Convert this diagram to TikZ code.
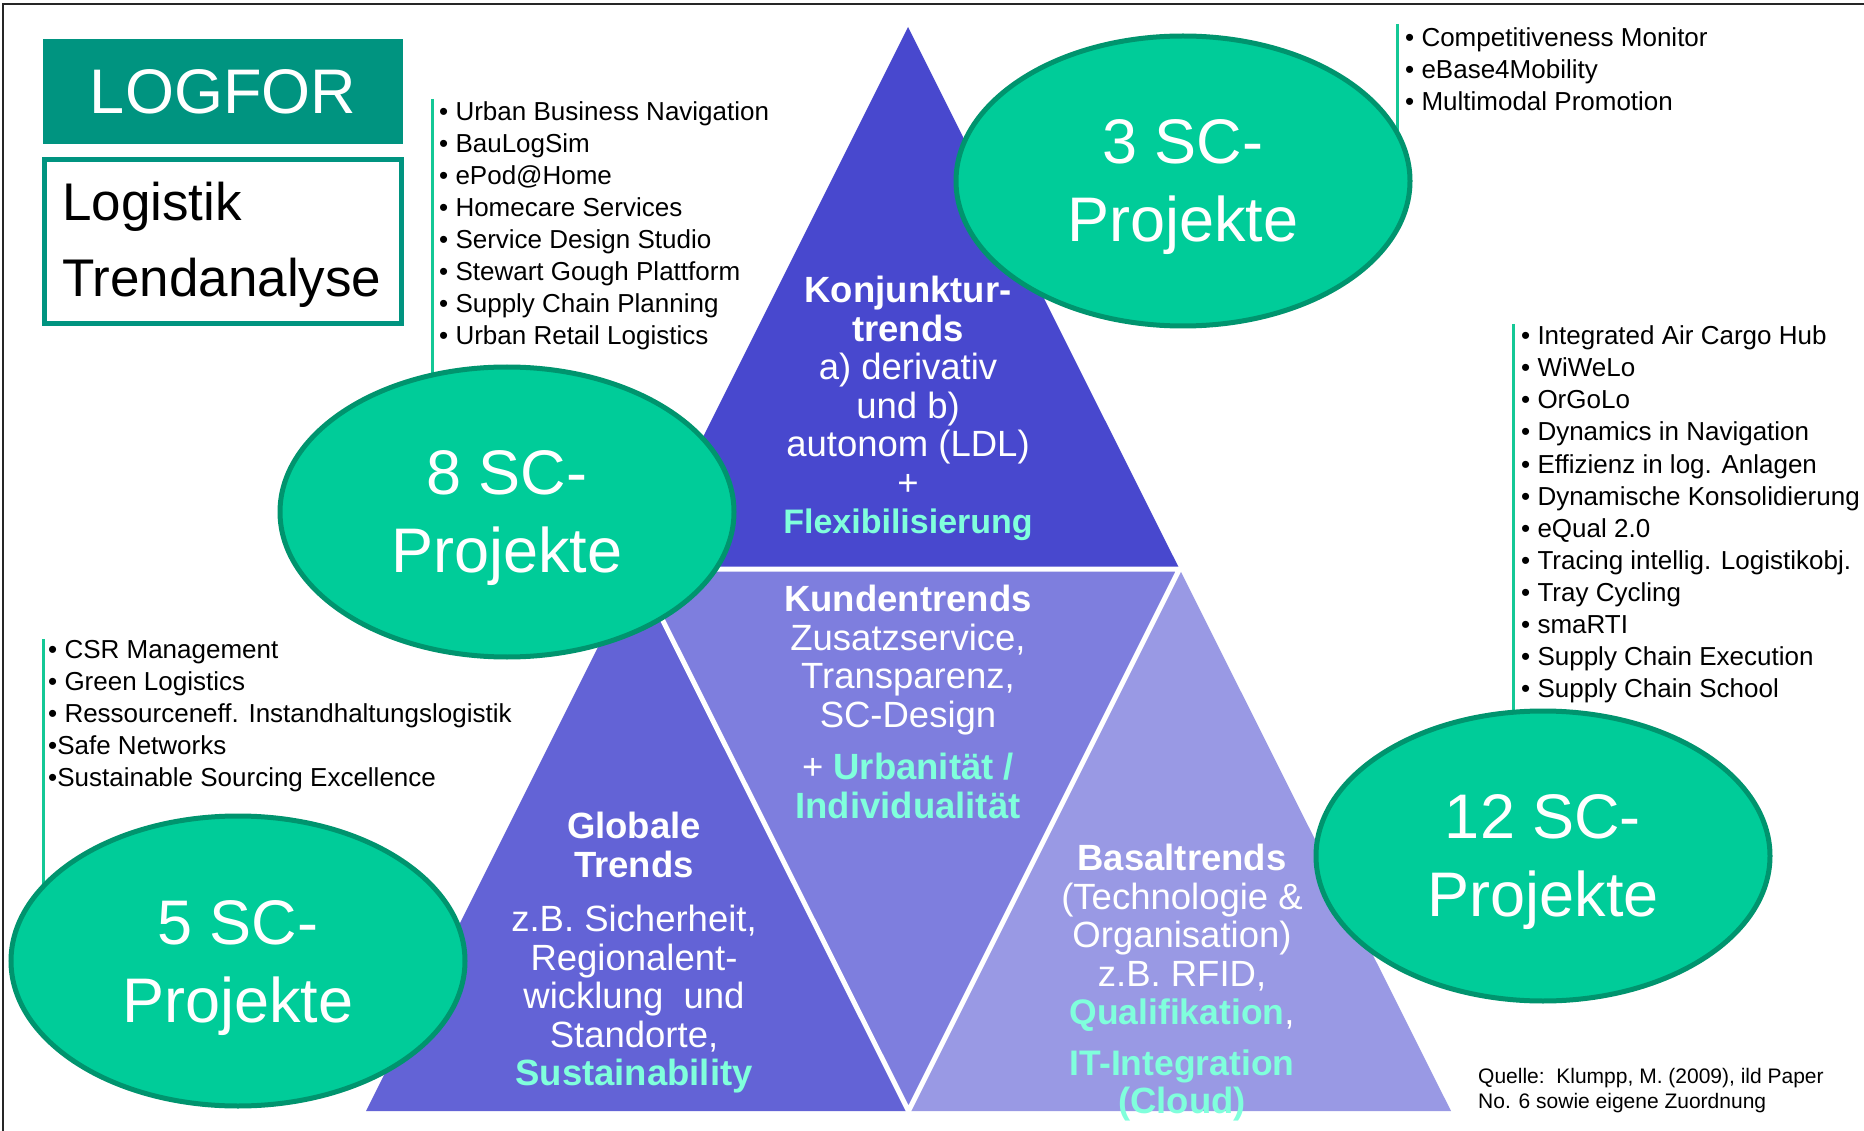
\documentclass[tikz,border=0pt]{standalone}
\usepackage{fontspec}
\setmainfont{Liberation Sans}
\usetikzlibrary{shapes.geometric}
\definecolor{tritop}{RGB}{72,72,206}
\definecolor{trileft}{RGB}{99,99,214}
\definecolor{trimid}{RGB}{126,126,222}
\definecolor{triright}{RGB}{153,153,228}
\definecolor{scgreen}{RGB}{0,204,153}
\definecolor{scborder}{RGB}{0,148,110}
\definecolor{listgreen}{RGB}{20,200,150}
\definecolor{logteal}{RGB}{0,148,128}
\definecolor{hlcyan}{RGB}{128,255,220}
\newcommand\hlt[1]{\textcolor{hlcyan}{\textbf{#1}}}
\begin{document}
\begin{tikzpicture}[x=1pt,y=-1pt,
  scnode/.style={ellipse, draw=scborder, line width=5pt, fill=scgreen, minimum width=454pt, minimum height=290pt, inner sep=0pt, text=white, align=center, text depth=0pt, font=\fontsize{63}{78}\selectfont},
  item/.style={anchor=base west, inner sep=0pt, font=\fontsize{26}{32}\selectfont},
  listline/.style={draw=listgreen, line width=3pt},
  tritext/.style={anchor=north, text=white, align=center, inner sep=0pt, font=\fontsize{36.5}{38.5}\selectfont},
  framel/.style={draw=black!85, line width=2pt},
  sep/.style={draw=white, line width=5pt, line join=round}
]
\useasboundingbox (0,0) rectangle (1864,1131);
\fill[white] (0,0) rectangle (1864,1131);
% frame
\draw[framel] (1864,4) -- (3,4) -- (3,1131);

% pyramid
\coordinate (A) at (908,27);
\coordinate (BL) at (366,1111);
\coordinate (BR) at (1451,1111);
\coordinate (ML) at (637,569);
\coordinate (MR) at (1179.5,569);
\coordinate (MB) at (908.5,1111);
\fill[tritop] (A) -- (ML) -- (MR) -- cycle;
\fill[trileft] (ML) -- (BL) -- (MB) -- cycle;
\fill[trimid] (ML) -- (MR) -- (MB) -- cycle;
\fill[triright] (MR) -- (MB) -- (BR) -- cycle;
\draw[sep] (ML) -- (MR) -- (MB) -- cycle;

% pyramid texts
\node[tritext] (ttop) at (908,276) {\textbf{Konjunktur-}\\\textbf{trends}\\a) derivativ\\und b)\\autonom (LDL)\\+\\{\fontsize{34}{38.5}\selectfont\hlt{Flexibilisierung}}};
\node[tritext] (tmid) at (908,585) {\textbf{Kundentrends}\\Zusatzservice,\\Transparenz,\\SC-Design\\[14pt]+ \hlt{Urbanität /}\\\hlt{Individualität}};
\node[tritext] (tleft) at (634,812) {\textbf{Globale}\\\textbf{Trends}\\[16pt]z.B. Sicherheit,\\Regionalent-\\wicklung~~und\\Standorte,\\\hlt{Sustainability}};
\node[tritext] (tright) at (1182,844) {\textbf{Basaltrends}\\(Technologie \&\\Organisation)\\z.B. RFID,\\{\fontsize{35.5}{38.5}\selectfont\hlt{Qualifikation}},\\[12pt]{\fontsize{35.5}{38.5}\selectfont\hlt{IT-Integration}}\\\hlt{(Cloud)}};

% circle centres
\coordinate (c3c) at (1183,181);
\coordinate (c8c) at (507,512);
\coordinate (c5c) at (238,961);
\coordinate (c12c) at (1543,856);

% list connector lines
\coordinate (l8) at (432,99);
\coordinate (l3) at (1397,24);
\coordinate (l12) at (1513,324);
\coordinate (l5) at (43,639);
\draw[listline] (l8) -- (l8 |- c8c);
\draw[listline] (l3) -- (l3 |- c3c);
\draw[listline] (l12) -- (l12 |- c12c);
\draw[listline] (l5) -- (l5 |- c5c);

% lists
\foreach \t [count=\i from 0] in {Urban Business Navigation, BauLogSim, ePod@Home, Homecare Services, Service Design Studio, Stewart Gough Plattform, Supply Chain Planning, Urban Retail Logistics}
  \node[item] (a\i) at (439,{121+32*\i}) {• \t};
\foreach \t [count=\i from 0] in {Competitiveness Monitor, eBase4Mobility, Multimodal Promotion}
  \node[item] (b\i) at (1405,{47+32*\i}) {• \t};
\foreach \t [count=\i from 0] in {Integrated Air Cargo Hub, WiWeLo, OrGoLo, Dynamics in Navigation, Effizienz in log. Anlagen, Dynamische Konsolidierung, eQual 2.0, Tracing intellig. Logistikobj., Tray Cycling, smaRTI, Supply Chain Execution, Supply Chain School}
  \node[item] (d\i) at (1521,{345+32*\i}) {• \t};
\foreach \t [count=\i from 0] in {• CSR Management, • Green Logistics, • Ressourceneff. Instandhaltungslogistik, •Safe Networks, •Sustainable Sourcing Excellence}
  \node[item] (e\i) at (48,{658+32*\i}) {\t};

% circles
\node[scnode] (c3) at (c3c) {3 SC-\\Projekte};
\node[scnode] (c8) at (c8c) {8 SC-\\Projekte};
\node[scnode] (c5) at (c5c) {5 SC-\\Projekte};
\node[scnode] (c12) at (c12c) {12 SC-\\Projekte};

% title boxes
\node[fill=logteal, minimum width=360pt, minimum height=105pt, inner sep=0pt, text=white, font=\fontsize{63}{70}\selectfont] (logfor) at (223,91.5) {LOGFOR};
\node[draw=logteal, line width=5pt, minimum width=357pt, minimum height=164pt, inner sep=0pt] (ltbox) at (223,241.5) {};
\node[anchor=base west, inner sep=0pt, font=\fontsize{53}{60}\selectfont] (lt1) at (62,221) {Logistik};
\node[anchor=base west, inner sep=0pt, font=\fontsize{53}{60}\selectfont] (lt2) at (62,297) {Trendanalyse};

% source
\node[anchor=base west, inner sep=0pt, font=\fontsize{21}{25}\selectfont] (q1) at (1478,1083) {Quelle:~~Klumpp, M. (2009), ild Paper};
\node[anchor=base west, inner sep=0pt, font=\fontsize{21}{25}\selectfont] (q2) at (1478,1108) {No. 6 sowie eigene Zuordnung};
\end{tikzpicture}
\end{document}
